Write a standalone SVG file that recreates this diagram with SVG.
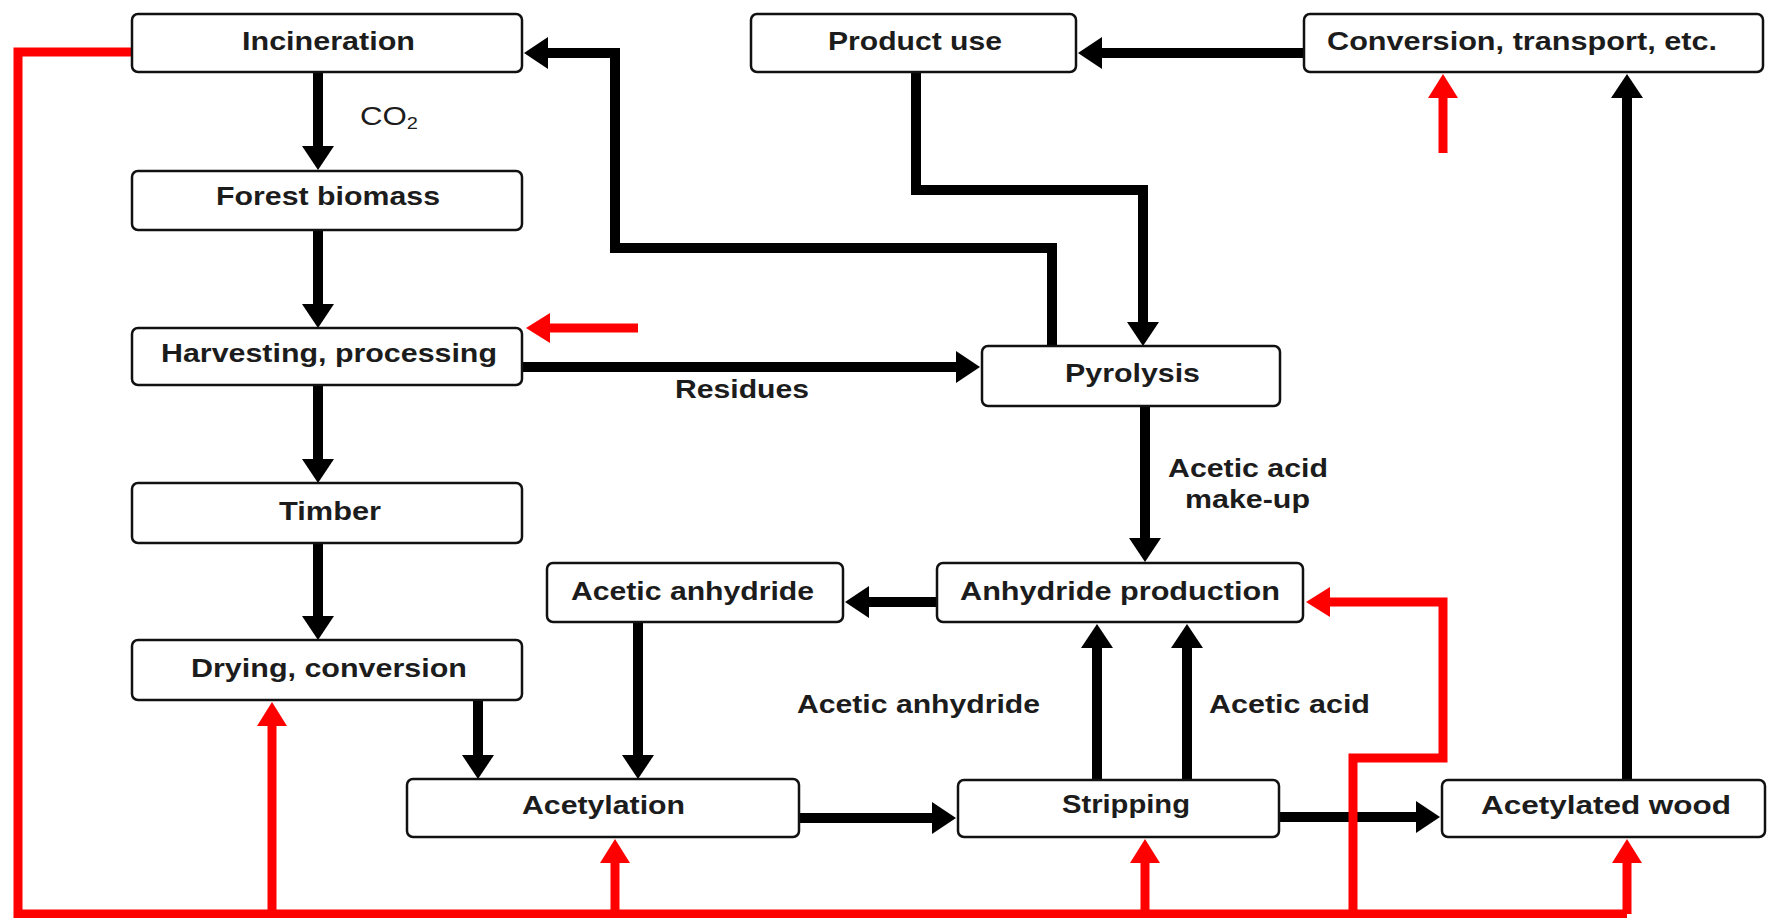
<svg xmlns="http://www.w3.org/2000/svg" width="1785" height="918" viewBox="0 0 1785 918">
<style>
.box{fill:#fff;stroke:#111;stroke-width:2.5}
.lbl{font-family:"Liberation Sans",Arial,sans-serif;font-size:25px;font-weight:bold;fill:#1c1c1c}
.k{fill:none;stroke:#000;stroke-width:10;stroke-linejoin:miter}
.r{fill:none;stroke:#ff0000;stroke-width:9;stroke-linejoin:miter}
.ka{marker-end:url(#ah)}
.ra{marker-end:url(#rh)}
</style>
<defs>
<marker id="ah" markerUnits="userSpaceOnUse" viewBox="0 0 24 32" refX="2" refY="16" markerWidth="24" markerHeight="32" orient="auto">
<path d="M0,0 L24,16 L0,32 z" fill="#000"/>
</marker>
<marker id="rh" markerUnits="userSpaceOnUse" viewBox="0 0 24 30" refX="2" refY="15" markerWidth="24" markerHeight="30" orient="auto">
<path d="M0,0 L24,15 L0,30 z" fill="#ff0000"/>
</marker>
</defs>
<rect width="1785" height="918" fill="#fff"/>
<g id="connectors">
<path class="k ka" d="M318 72 V148"/>
<path class="k ka" d="M318 230 V306"/>
<path class="k ka" d="M318 385 V461"/>
<path class="k ka" d="M318 543 V618"/>
<path class="k ka" d="M478 700 V757"/>
<path class="k ka" d="M638 622 V757"/>
<path class="k ka" d="M937 602 H867"/>
<path class="k ka" d="M799 818 H934"/>
<path class="k ka" d="M1279 817 H1418"/>
<path class="k ka" d="M1097 780 V646"/>
<path class="k ka" d="M1187 780 V646"/>
<path class="k ka" d="M1627 780 V96"/>
<path class="k ka" d="M1304 53 H1100"/>
<path class="k ka" d="M916 72 V190 H1143 V324"/>
<path class="k ka" d="M1052 346 V248 H615 V53 H546"/>
<path class="k ka" d="M522 367 H958"/>
<path class="k ka" d="M1145 406 V540"/>
<path class="r" d="M132 52 H18 V914 H1627"/>
<path class="r ra" d="M272 914 V724"/>
<path class="r ra" d="M615 914 V861"/>
<path class="r ra" d="M1145 914 V861"/>
<path class="r ra" d="M1627 914 V861"/>
<path class="r ra" d="M1353 914 V758 H1443 V602 H1328"/>
<path class="r ra" d="M638 328 H548"/>
<path class="r ra" d="M1443 153 V96"/>
</g>
<g id="incineration"><rect class="box" x="132" y="14" width="390" height="58" rx="6"/><text class="lbl" x="242" y="50" textLength="173" lengthAdjust="spacingAndGlyphs">Incineration</text></g>
<g id="co2-label"><text class="lbl" style="font-weight:normal" transform="translate(360,125) scale(1.25,1)">CO<tspan font-size="16" dy="4">2</tspan></text></g>
<g id="forest-biomass"><rect class="box" x="132" y="171" width="390" height="59" rx="6"/><text class="lbl" x="216" y="205" textLength="224" lengthAdjust="spacingAndGlyphs">Forest biomass</text></g>
<g id="harvesting"><rect class="box" x="132" y="328" width="390" height="57" rx="6"/><text class="lbl" x="161" y="362" textLength="336" lengthAdjust="spacingAndGlyphs">Harvesting, processing</text></g>
<g id="timber"><rect class="box" x="132" y="483" width="390" height="60" rx="6"/><text class="lbl" x="279" y="520" textLength="102" lengthAdjust="spacingAndGlyphs">Timber</text></g>
<g id="drying"><rect class="box" x="132" y="640" width="390" height="60" rx="6"/><text class="lbl" x="191" y="677" textLength="276" lengthAdjust="spacingAndGlyphs">Drying, conversion</text></g>
<g id="product-use"><rect class="box" x="751" y="14" width="325" height="58" rx="6"/><text class="lbl" x="828" y="50" textLength="174" lengthAdjust="spacingAndGlyphs">Product use</text></g>
<g id="conversion"><rect class="box" x="1304" y="14" width="459" height="58" rx="6"/><text class="lbl" x="1327" y="50" textLength="390" lengthAdjust="spacingAndGlyphs">Conversion, transport, etc.</text></g>
<g id="pyrolysis"><rect class="box" x="982" y="346" width="298" height="60" rx="6"/><text class="lbl" x="1065" y="382" textLength="135" lengthAdjust="spacingAndGlyphs">Pyrolysis</text></g>
<g id="residues-label"><text class="lbl" x="675" y="398" textLength="134" lengthAdjust="spacingAndGlyphs">Residues</text></g>
<g id="makeup-label"><text class="lbl" x="1168" y="477" textLength="160" lengthAdjust="spacingAndGlyphs">Acetic acid</text><text class="lbl" x="1185" y="508" textLength="125" lengthAdjust="spacingAndGlyphs">make-up</text></g>
<g id="acetic-anhydride-box"><rect class="box" x="547" y="563" width="296" height="59" rx="6"/><text class="lbl" x="571" y="600" textLength="243" lengthAdjust="spacingAndGlyphs">Acetic anhydride</text></g>
<g id="anhydride-production"><rect class="box" x="937" y="563" width="366" height="59" rx="6"/><text class="lbl" x="960" y="600" textLength="320" lengthAdjust="spacingAndGlyphs">Anhydride production</text></g>
<g id="acetic-anhydride-label"><text class="lbl" x="797" y="713" textLength="243" lengthAdjust="spacingAndGlyphs">Acetic anhydride</text></g>
<g id="acetic-acid-label"><text class="lbl" x="1209" y="713" textLength="161" lengthAdjust="spacingAndGlyphs">Acetic acid</text></g>
<g id="acetylation"><rect class="box" x="407" y="779" width="392" height="58" rx="6"/><text class="lbl" x="522" y="814" textLength="163" lengthAdjust="spacingAndGlyphs">Acetylation</text></g>
<g id="stripping"><rect class="box" x="958" y="780" width="321" height="57" rx="6"/><text class="lbl" x="1062" y="813" textLength="128" lengthAdjust="spacingAndGlyphs">Stripping</text></g>
<g id="acetylated-wood"><rect class="box" x="1442" y="780" width="323" height="57" rx="6"/><text class="lbl" x="1481" y="814" textLength="250" lengthAdjust="spacingAndGlyphs">Acetylated wood</text></g>
</svg>
